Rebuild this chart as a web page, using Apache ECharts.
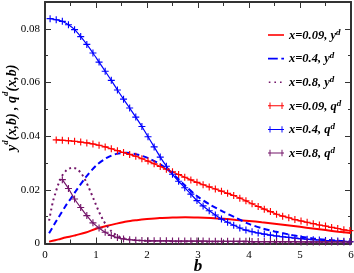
<!DOCTYPE html>
<html><head><meta charset="utf-8">
<script src="https://cdn.jsdelivr.net/npm/echarts@6/dist/echarts.min.js"></script>
<style>html,body{margin:0;padding:0;background:#fff}#c{width:354px;height:273px}</style>
</head><body><div id="c"></div>
<script>
// b grid for y^d curves (x=0.09 and x=0.4)
const B_Y = [0.08,0.2,0.3,0.4,0.5,0.6,0.8,1.0,1.2,1.4,1.6,1.8,2.0,2.25,2.5,2.75,3.0,3.25,3.5,3.75,4.0,4.25,4.5,4.75,5.0,5.25,5.5,5.75,6.0];
const Y_X009 = [0.0007,0.0012,0.0017,0.0022,0.0026,0.0031,0.0041,0.0055,0.0065,0.0074,0.0082,0.0087,0.0091,0.0095,0.0097,0.0098,0.0097,0.0095,0.0092,0.0088,0.0084,0.0079,0.0074,0.0068,0.0062,0.0056,0.0050,0.0044,0.0039];
const Y_X04 = [0.0038,0.0077,0.0108,0.0139,0.0166,0.0194,0.0247,0.0290,0.0318,0.0334,0.0338,0.0332,0.0320,0.0296,0.0260,0.0215,0.0174,0.0143,0.0118,0.0095,0.0073,0.0057,0.0045,0.0035,0.0026,0.0019,0.0014,0.0010,0.0007];
// b grid for y^d, x=0.8
const B_Y08 = [0.08,0.12,0.16,0.2,0.25,0.3,0.35,0.4,0.45,0.5,0.55,0.6,0.65,0.7,0.75,0.8,0.85,0.9,0.95,1.0,1.05,1.1,1.15,1.2,1.3,1.4,1.5,1.6,1.8,2.0,2.5,3,4,5,6];
const Y_X08 = [0.0085,0.0125,0.016,0.0185,0.0215,0.0238,0.0257,0.0269,0.0277,0.0281,0.0282,0.028,0.0274,0.0264,0.025,0.0232,0.0212,0.019,0.0167,0.0144,0.0122,0.0102,0.0084,0.0069,0.0046,0.0031,0.0022,0.0017,0.0012,0.001,0.0008,0.0007,0.0006,0.0005,0.0004];
// b grid for q^d curves (step 0.12)
const B_Q = [0.10,0.22,0.34,0.46,0.58,0.70,0.82,0.94,1.06,1.18,1.30,1.42,1.54,1.66,1.78,1.90,2.02,2.14,2.26,2.38,2.50,2.62,2.74,2.86,2.98,3.10,3.22,3.34,3.46,3.58,3.70,3.82,3.94,4.06,4.18,4.30,4.42,4.54,4.66,4.78,4.90,5.02,5.14,5.26,5.38,5.50,5.62,5.74,5.86,5.98];
const Q_X009 = [null,0.0386,0.0385,0.0383,0.0381,0.0378,0.0375,0.0371,0.0366,0.0360,0.0353,0.0346,0.0339,0.0332,0.0325,0.0316,0.0307,0.0297,0.0287,0.0277,0.0267,0.0257,0.0247,0.0237,0.0228,0.0219,0.0211,0.0203,0.0195,0.0187,0.0179,0.0169,0.0159,0.0148,0.0138,0.0128,0.0119,0.0109,0.0102,0.0096,0.0089,0.0084,0.0079,0.0074,0.0069,0.0065,0.0060,0.0056,0.0051,0.0048];
const Q_X04 = [0.0838,0.0834,0.0828,0.0815,0.0797,0.0771,0.0742,0.0710,0.0676,0.0642,0.0608,0.0572,0.0538,0.0505,0.0471,0.0436,0.0398,0.0360,0.0322,0.0288,0.0258,0.0232,0.0208,0.0184,0.0160,0.0140,0.0122,0.0106,0.0091,0.0079,0.0068,0.0058,0.0050,0.0044,0.0039,0.0035,0.0031,0.0028,0.0025,0.0023,0.0020,0.0018,0.0016,0.0014,0.0013,0.0011,0.0010,0.0009,0.0008,0.0007];
const Q_X08 = [null,null,0.0238,0.0205,0.0166,0.0134,0.0104,0.0077,0.0058,0.0042,0.0030,0.0022,0.0017,0.0014,0.0012,0.0011,0.0010,0.0010,0.0010,0.0010,0.0009,0.0009,0.0009,0.0009,0.0009,0.0009,0.0008,0.0008,0.0008,0.0008,0.0008,0.0008,0.0008,0.0007,0.0007,0.0007,0.0007,0.0007,0.0007,0.0007,0.0007,0.0006,0.0006,0.0006,0.0006,0.0006,0.0006,0.0006,0.0006,0.0006];
const X_TICKS = [0,1,2,3,4,5,6];
const Y_TICKS = [0,0.02,0.04,0.06,0.08];
const LEGEND = [
  {name:'x=0.09, yd', txt:'x=0.09, y'},
  {name:'x=0.4, yd', txt:'x=0.4, y'},
  {name:'x=0.8, yd', txt:'x=0.8, y'},
  {name:'x=0.09, qd', txt:'x=0.09, q'},
  {name:'x=0.4, qd', txt:'x=0.4, q'},
  {name:'x=0.8, qd', txt:'x=0.8, q'}
];

const RED='#ff0000', BLUE='#0000ff', PURPLE='#74166a';
const SERIF='"Liberation Serif","DejaVu Serif",serif';
const PLUS='path://M0,4.2H10V5.8H0Z M4.2,0H5.8V10H4.2Z';
const ICON_SOLID='path://M0,4H20V6H0Z';
const ICON_DASH='path://M0,4H11V6H0Z M15,4H18V6H15Z M0,0H0.01V0.01H0Z M0,10H0.01V10.01H0Z';
const ICON_DOT='path://M1,4H3V6H1Z M8,4H10V6H8Z M15,4H17V6H15Z M0,0H0.01V0.01H0Z M20,10H20.01V10.01H20Z';
const ICON_Q='path://M0,4.4H20V5.6H0Z M1.9,1H3.1V9H1.9Z M16.9,1H18.1V9H16.9Z';

function pairs(bs, vs){ const out=[]; bs.forEach((b,i)=>{ if(vs[i]!==null) out.push([b,vs[i]]); }); return out; }

const chart = echarts.init(document.getElementById('c'), null, {renderer:'canvas'});
const frame = {show:true, onZero:false, lineStyle:{color:'#333', width:2}};
const xBase = (pos, labels) => ({
  type:'value', position:pos, min:0, max:6, interval:1,
  axisLine:frame,
  axisTick:{show:true, inside:true, length:6, lineStyle:{color:'#333', width:1}},
  minorTick:{show:true, splitNumber:2, length:4, lineStyle:{color:'#333', width:1}},
  splitLine:{show:false}, minorSplitLine:{show:false},
  axisLabel:{show:labels, color:'#000', fontFamily:SERIF, fontSize:11, margin:6,
    formatter:v=>X_TICKS.includes(v)?String(v):''}
});
const yBase = (pos, labels) => ({
  type:'value', position:pos, min:0, max:0.09, interval:0.02,
  axisLine:frame,
  axisTick:{show:true, inside:true, length:6, lineStyle:{color:'#333', width:1}},
  minorTick:{show:true, splitNumber:2, length:3, lineStyle:{color:'#333', width:1}},
  splitLine:{show:false}, minorSplitLine:{show:false},
  axisLabel:{show:labels, showMaxLabel:false, color:'#000', fontFamily:SERIF, fontSize:11, margin:5,
    formatter:v=>{ const t=Y_TICKS.find(k=>Math.abs(k-v)<1e-9); return t===undefined?'':(t===0?'0':t.toFixed(2)); }}
});
const xa = xBase('bottom', true);
xa.name='b'; xa.nameLocation='middle'; xa.nameGap=15; xa.nameMoveOverlap=false;
xa.nameTextStyle={fontFamily:SERIF, fontSize:17, fontWeight:'bold', fontStyle:'italic', color:'#000'};
const xt = xBase('top', false);
const ya = yBase('left', true);
ya.name='{t|y}{s|d}{t|(x,b) , q}{s|d}{t|(x,b)}';
ya.nameLocation='middle'; ya.nameGap=26; ya.nameRotate=90; ya.nameMoveOverlap=false;
ya.nameTextStyle={fontFamily:SERIF, fontSize:14, fontWeight:'bold', fontStyle:'italic', color:'#000', padding:[0,0,0,30],
  rich:{t:{fontFamily:SERIF, fontSize:14, fontWeight:'bold', fontStyle:'italic', color:'#000', lineHeight:18, verticalAlign:'bottom'},
        s:{fontFamily:SERIF, fontSize:9, fontWeight:'bold', fontStyle:'italic', color:'#000', lineHeight:18, verticalAlign:'top'}}};
const yr = yBase('right', false);

const lineSeries = (name, data, color, type, width) => ({
  name, type:'line', xAxisIndex:0, yAxisIndex:0, data, smooth:0.3, showSymbol:false, symbol:'none',
  lineStyle:{color, width, type}, itemStyle:{color}, z:2
});
const qSeries = (name, data, color) => ({
  name, type:'line', xAxisIndex:0, yAxisIndex:0, data, smooth:0.2,
  symbol:PLUS, symbolSize:7, showSymbol:true,
  lineStyle:{color, width:1.2}, itemStyle:{color, borderWidth:0}, z:3
});
const ICONS=[ICON_SOLID, ICON_DASH, ICON_DOT, ICON_Q, ICON_Q, ICON_Q];

chart.setOption({
  animation:false,
  backgroundColor:'#fff',
  grid:{left:45, right:3, top:2, bottom:29.5, containLabel:false, outerBoundsMode:'none'},
  xAxis:[xa, xt],
  yAxis:[ya, yr],
  legend:{
    orient:'vertical', left:268, top:28, padding:0, itemWidth:16, itemHeight:12, itemGap:9.6,
    data:LEGEND.map((l,i)=>({name:l.name, icon:ICONS[i]})),
    formatter:n=>{ const l=LEGEND.find(e=>e.name===n); return '{t|'+l.txt+'}{s|d}'; },
    textStyle:{fontFamily:SERIF, fontSize:12, fontWeight:'bold', fontStyle:'italic', color:'#000', padding:0,
      rich:{t:{fontFamily:SERIF, fontSize:12.5, fontWeight:'bold', fontStyle:'italic', color:'#000', lineHeight:14, verticalAlign:'bottom'},
            s:{fontFamily:SERIF, fontSize:9, fontWeight:'bold', fontStyle:'italic', color:'#000', lineHeight:14, verticalAlign:'top'}}}
  },
  series:[
    lineSeries(LEGEND[0].name, pairs(B_Y, Y_X009), RED, 'solid', 2),
    lineSeries(LEGEND[1].name, pairs(B_Y, Y_X04), BLUE, [6,3.5], 2),
    lineSeries(LEGEND[2].name, pairs(B_Y08, Y_X08), PURPLE, [2,3.2], 2),
    qSeries(LEGEND[3].name, pairs(B_Q, Q_X009), RED),
    qSeries(LEGEND[4].name, pairs(B_Q, Q_X04), BLUE),
    qSeries(LEGEND[5].name, pairs(B_Q, Q_X08), PURPLE)
  ]
});
</script></body></html>
